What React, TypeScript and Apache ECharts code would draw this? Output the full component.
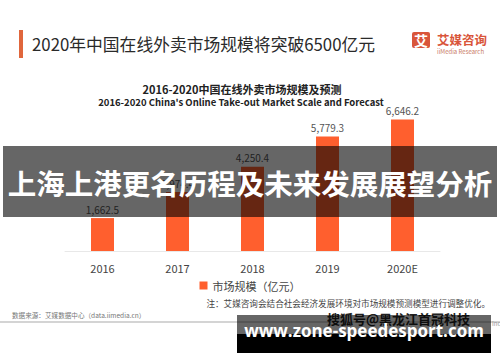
import React, { useEffect, useRef } from "react";
import * as echarts from "echarts";

const categories = ["2016", "2017", "2018", "2019", "2020E"];
const marketScale = [1662.5, 2974.4, 4250.4, 5779.3, 6646.2];
const seriesName = "市场规模（亿元）";
const headline = "2020年中国在线外卖市场规模将突破6500亿元";
const chartTitleCn = "2016-2020中国在线外卖市场规模及预测";
const chartTitleEn = "2016-2020 China's Online Take-out Market Scale and Forecast";
const bannerText = "上海上港更名历程及未来发展展望分析";
const noteText = "注：艾媒咨询会结合社会经济发展环境对市场规模预测模型进行调整优化。";
const sourceText = "数据来源：艾媒数据中心（data.iimedia.cn）";
const watermarkText = "www.zone-speedesport.com";

const FONT = '"Noto Sans CJK SC", "Noto Sans", sans-serif';

export default function App() {
  const ref = useRef<HTMLDivElement>(null);
  useEffect(() => {
    if (!ref.current) return;
    const chart = echarts.init(ref.current, undefined, { renderer: "svg" });
    chart.setOption({
      animation: false,
      backgroundColor: "#ffffff",
      textStyle: { fontFamily: FONT },
      grid: { left: 65, right: 60, top: 112.4, bottom: 111, containLabel: false },
      xAxis: {
        type: "category",
        data: categories,
        axisLine: { show: true, lineStyle: { color: "#e8e8e8", width: 1 } },
        axisTick: { show: false },
        axisLabel: { color: "#444", fontSize: 11, margin: 11, fontFamily: FONT },
      },
      yAxis: {
        type: "value",
        min: 0,
        max: 7000,
        show: false,
        splitLine: { show: false },
      },
      legend: {
        data: [seriesName],
        left: "center",
        top: 275,
        itemWidth: 8,
        itemHeight: 8,
        icon: "rect",
        itemGap: 4,
        textStyle: { color: "#444", fontSize: 11, fontFamily: FONT },
      },
      series: [
        {
          name: seriesName,
          type: "bar",
          data: marketScale,
          barWidth: 23,
          itemStyle: { color: "#ff5f2e" },
          label: {
            show: true,
            position: "top",
            distance: 4,
            color: "#555",
            fontSize: 10,
            fontFamily: FONT,
            formatter: (p: any) =>
              Number(p.value).toLocaleString("en-US", { minimumFractionDigits: 1, maximumFractionDigits: 1 }),
          },
        },
      ],
      graphic: [
        { type: "rect", z: 10, shape: { x: 19, y: 30, width: 4, height: 28 }, style: { fill: "#e0663c" } },
        {
          type: "text", z: 10, x: 32, y: 44,
          style: { text: headline, fill: "#2a2a2a", fontSize: 16.8, fontFamily: FONT, verticalAlign: "middle" },
        },
        { type: "rect", z: 10, shape: { x: 412, y: 32, width: 18, height: 16, r: 2 }, style: { fill: "#d9553a" } },
        {
          type: "text", z: 11, x: 421, y: 40,
          style: { text: "艾", fill: "#fff", fontSize: 14, fontWeight: "bold", fontFamily: FONT, align: "center", verticalAlign: "middle" },
        },
        {
          type: "text", z: 10, x: 437, y: 39,
          style: { text: "艾媒咨询", fill: "#d9553a", fontSize: 12.5, fontWeight: "bold", fontFamily: FONT, verticalAlign: "middle" },
        },
        {
          type: "text", z: 10, x: 437, y: 51,
          style: { text: "iiMedia Research", fill: "#c97a66", fontSize: 6, fontFamily: FONT, verticalAlign: "middle" },
        },
        {
          type: "text", z: 10, x: 242, y: 89,
          style: { text: chartTitleCn, fill: "#222", fontSize: 11, fontWeight: "bold", fontFamily: FONT, align: "center", verticalAlign: "middle" },
        },
        {
          type: "text", z: 10, x: 241, y: 102,
          style: { text: chartTitleEn, fill: "#222", fontSize: 9.5, fontWeight: "bold", fontFamily: FONT, align: "center", verticalAlign: "middle" },
        },
        {
          type: "text", z: 10, x: 490, y: 303,
          style: { text: noteText, fill: "#444", fontSize: 8.6, fontFamily: FONT, align: "right", verticalAlign: "middle" },
        },
        {
          type: "text", z: 10, x: 12, y: 315,
          style: { text: sourceText, fill: "#777", fontSize: 6.6, fontFamily: FONT, verticalAlign: "middle" },
        },
        { type: "line", z: 10, shape: { x1: 0, y1: 322, x2: 500, y2: 322 }, style: { stroke: "#aaa", lineWidth: 1.2 } },
        {
          type: "text", z: 10, x: 492, y: 323,
          style: { text: "Inc", fill: "#999", fontSize: 6, fontFamily: FONT, verticalAlign: "middle" },
        },
        {
          type: "text", z: 10, x: 470, y: 318,
          style: { text: "搜狐号@黑龙江首冠科技", fill: "#222", fontSize: 13, fontWeight: "bold", fontFamily: FONT, align: "right", verticalAlign: "middle" },
        },
        { type: "rect", z: 100, shape: { x: 3, y: 146, width: 494, height: 71 }, style: { fill: "rgba(0,0,0,0.6)" } },
        {
          type: "text", z: 101, x: 250, y: 182,
          style: { text: bannerText, fill: "#ffffff", fontSize: 28.5, fontWeight: "bold", fontFamily: FONT, align: "center", verticalAlign: "middle" },
        },
        { type: "rect", z: 100, shape: { x: 237, y: 315, width: 254, height: 19 }, style: { fill: "rgba(0,0,0,0.6)" } },
        { type: "rect", z: 100, shape: { x: 237, y: 334, width: 254, height: 19 }, style: { fill: "#000" } },
        {
          type: "text", z: 101, x: 364, y: 330,
          style: { text: watermarkText, fill: "#ffffff", fontSize: 17, fontWeight: "bold", fontFamily: '"Open Sans", "DejaVu Sans", sans-serif', align: "center", verticalAlign: "middle" },
        },
      ],
    });
    return () => chart.dispose();
  }, []);
  return <div ref={ref} style={{ position: "fixed", left: 0, top: 0, width: 500, height: 362 }} />;
}
